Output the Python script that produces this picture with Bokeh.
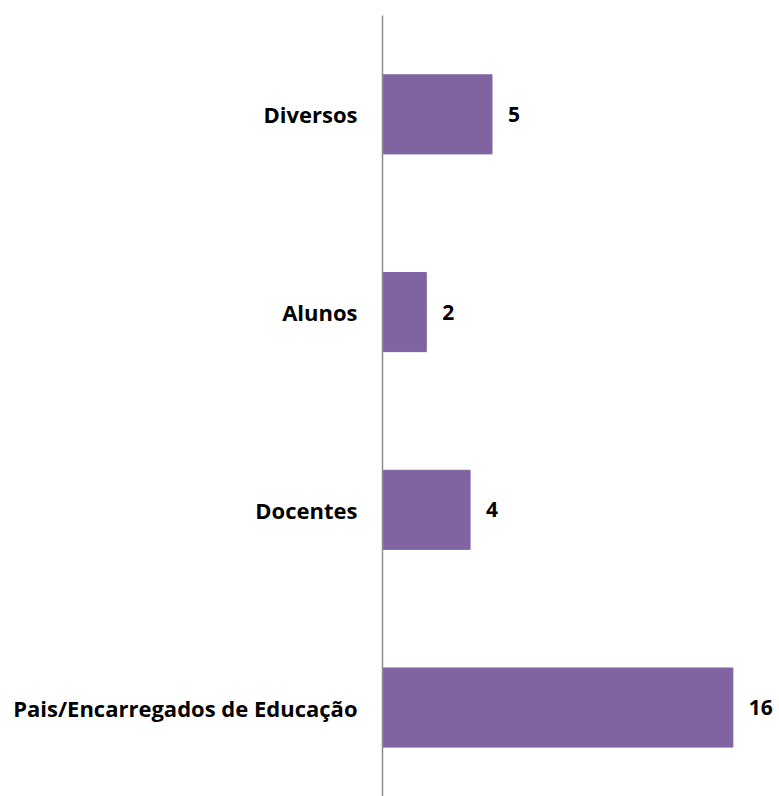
from bokeh.plotting import figure
from bokeh.models import Range1d, FixedTicker, ColumnDataSource
from bokeh.core.properties import value
from bokeh.embed import file_html
from bokeh.resources import INLINE

categories = ["Pais/Encarregados de Educação", "Docentes", "Alunos", "Diversos"]
counts = [16, 4, 2, 5]

positions = [i + 0.5 for i in range(len(categories))]
labels = [str(v) for v in counts]

src = ColumnDataSource(dict(y=positions, v=counts, lab=labels))

p = figure(width=779, height=796, output_backend="svg", toolbar_location=None,
           x_range=Range1d(0, 18.13), y_range=Range1d(0.05, 4.0),
           min_border_left=382, min_border_right=0, min_border_top=15, min_border_bottom=0)
p.frame_width = 397
p.frame_height = 781
p.outline_line_color = None
p.xaxis.visible = False
p.xgrid.visible = False
p.ygrid.visible = False

p.hbar(y="y", right="v", left=0, height=0.4, color="#8064A2", source=src)
p.text(x="v", y="y", text="lab", source=src, x_offset=16, text_baseline="middle",
       text_align="left", text_font=value("Open Sans"), text_font_style="bold",
       text_font_size="21px", text_color="black")

ax = p.yaxis[0]
ax.ticker = FixedTicker(ticks=positions)
ax.major_label_overrides = {pos: c for pos, c in zip(positions, categories)}
ax.major_tick_line_color = None
ax.minor_tick_line_color = None
ax.axis_line_color = "#8c8c8c"
ax.axis_line_width = 1.5
ax.major_label_standoff = 19
ax.major_label_text_font = "Open Sans"
ax.major_label_text_font_style = "bold"
ax.major_label_text_font_size = "22px"
ax.major_label_text_color = "black"

open("out.html", "w").write(file_html(p, INLINE))
